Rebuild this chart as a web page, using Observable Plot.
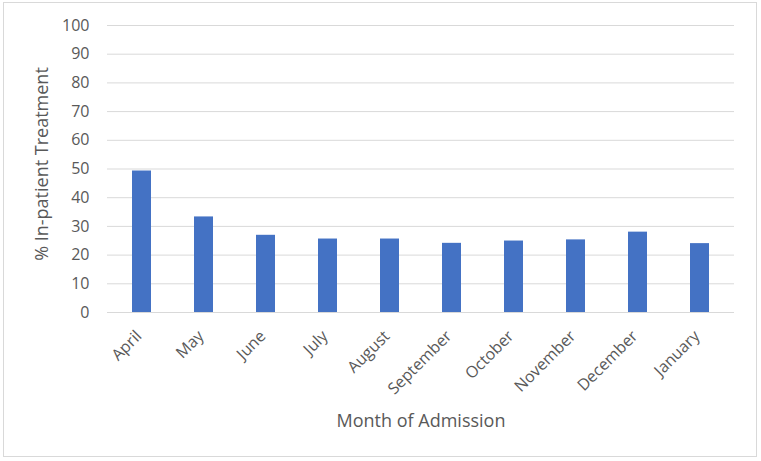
<!DOCTYPE html>
<html>
<head>
<meta charset="utf-8">
<script src="https://cdn.jsdelivr.net/npm/d3@7"></script>
<script src="https://cdn.jsdelivr.net/npm/@observablehq/plot@0.6"></script>
<style>
  html, body { margin: 0; padding: 0; background: #fff; }
  #wrap { position: relative; width: 761px; height: 461px; overflow: hidden; }
  #border { position: absolute; left: 3px; top: 2px; width: 754px; height: 455px; box-sizing: border-box; border: 1px solid #d9d9d9; pointer-events: none; }
</style>
</head>
<body>
<div id="wrap"><div id="border"></div></div>
<script>
const months = ["April","May","June","July","August","September","October","November","December","January"];
const values = [49.3, 33.3, 26.9, 25.6, 25.6, 24.1, 24.9, 25.3, 28.0, 24.0];
const yTicks = [0,10,20,30,40,50,60,70,80,90,100];
const xTitle = "Month of Admission";
const yTitle = "% In-patient Treatment";

const data = months.map((m, i) => ({month: m, value: values[i]}));

const chart = Plot.plot({
  width: 761,
  height: 461,
  marginLeft: 107,
  marginRight: 27,
  marginTop: 25,
  marginBottom: 149,
  style: {fontFamily: "'Open Sans', sans-serif", fontSize: "16px", color: "#595959", background: "transparent", overflow: "visible"},
  x: {domain: months, paddingInner: 0.7, paddingOuter: 0.35, label: null},
  y: {domain: [0, 100], ticks: yTicks, label: null},
  marks: [
    Plot.gridY(yTicks, {stroke: "#d9d9d9", strokeOpacity: 1, strokeWidth: 1}),
    Plot.barY(data, {x: "month", y: "value", fill: "#4472C4"}),
    Plot.axisY(yTicks, {tickSize: 0, tickPadding: 18, fontSize: 16, fill: "#595959", label: null}),
    Plot.axisX({tickSize: 0, tickPadding: 21, tickRotate: -45, dx: -3, fontSize: 16, fill: "#595959", label: null}),
    Plot.text([xTitle], {frameAnchor: "bottom", dy: 114, lineAnchor: "bottom", textAnchor: "middle", fontSize: 18, fill: "#595959"}),
    Plot.text([yTitle], {frameAnchor: "left", dx: -65, dy: -5, rotate: -90, textAnchor: "middle", lineAnchor: "middle", fontSize: 18, fill: "#595959"})
  ]
});
document.getElementById("wrap").appendChild(chart);
</script>
</body>
</html>
